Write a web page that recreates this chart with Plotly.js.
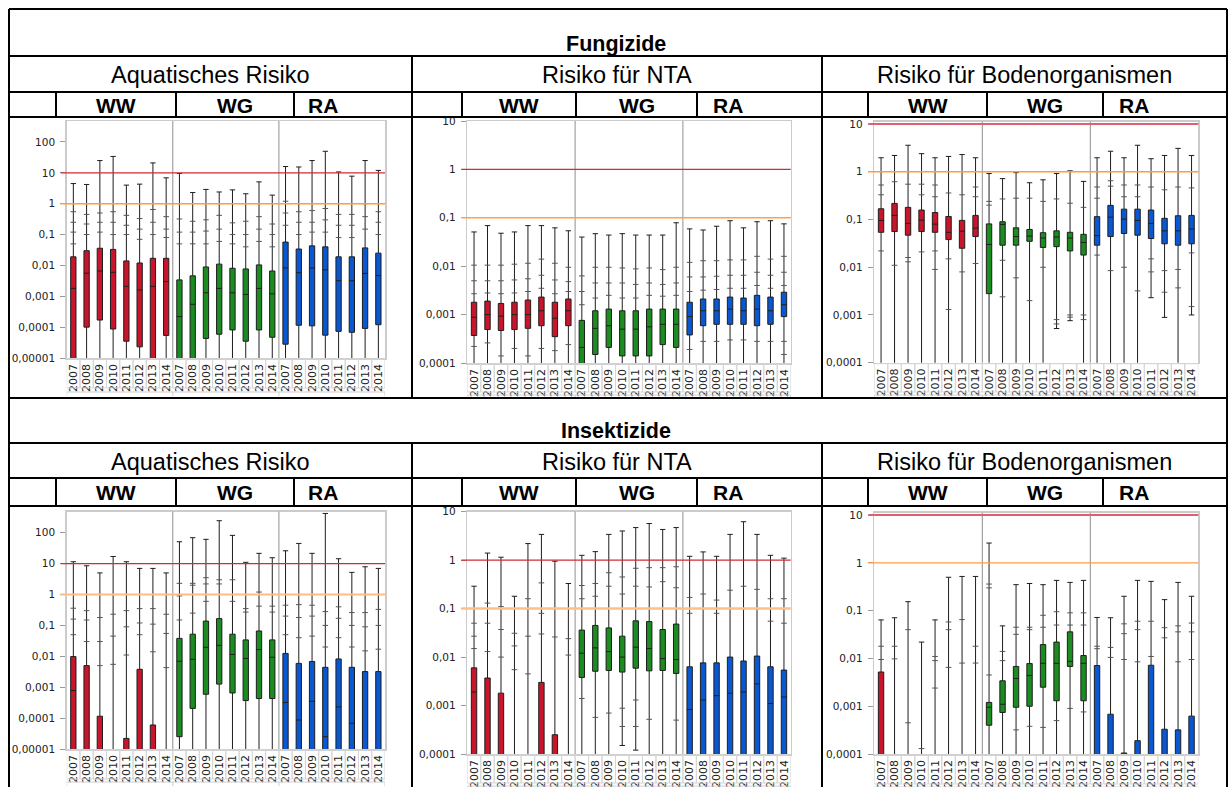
<!DOCTYPE html>
<html>
<head>
<meta charset="utf-8">
<script src="https://cdn.plot.ly/plotly-3.0.1.min.js"></script>
<style>
  html, body { margin: 0; padding: 0; background: #ffffff; }
  #chart { width: 1230px; height: 787px; }
</style>
</head>
<body>
<div id="chart"></div>
<script>
// ---- categories -------------------------------------------------------
const years = ['2007', '2008', '2009', '2010', '2011', '2012', '2013', '2014'];
const groups = ['WW', 'WG', 'RA'];
const sections = ['Fungizide', 'Insektizide'];
const riskTitles = ['Aquatisches Risiko', 'Risiko für NTA', 'Risiko für Bodenorganismen'];

// y tick labels (German decimal comma)
const aquaTickVals = [1e-5, 1e-4, 1e-3, 1e-2, 1e-1, 1, 10, 100];
const aquaTickText = ['0,00001', '0,0001', '0,001', '0,01', '0,1', '1', '10', '100'];
const soilTickVals = [1e-4, 1e-3, 1e-2, 1e-1, 1, 10];
const soilTickText = ['0,0001', '0,001', '0,01', '0,1', '1', '10'];

// trigger values (upper red line, lower orange line)
const aquaLimits = [10, 1];
const ntaLimits = [1, 0.1];
const soilLimits = [10, 1];

// ---- Fungizide: aquatisches Risiko (WW 2007-14, WG 2007-14, RA 2007-14) ----
const fungAquaHi  = [4.5, 4.2, 25, 34, 4.0, 4.3, 21, 6.9,   9.5, 2.3, 2.9, 2.4, 2.8, 2.1, 5.1, 1.9,   16, 15.5, 25, 50, 10.7, 7.8, 25, 12];
const fungAquaQ3  = [0.019, 0.030, 0.036, 0.033, 0.014, 0.012, 0.017, 0.017,   0.0034, 0.0046, 0.0089, 0.011, 0.0081, 0.0077, 0.0104, 0.0066,   0.057, 0.034, 0.043, 0.040, 0.019, 0.019, 0.037, 0.025];
const fungAquaMed = [0.0018, 0.0056, 0.0066, 0.006, 0.0021, 0.0016, 0.0021, 0.003,   0.00022, 0.00055, 0.0013, 0.0018, 0.0013, 0.00115, 0.0018, 0.0012,   0.0083, 0.0058, 0.0083, 0.0072, 0.0032, 0.0032, 0.0055, 0.0047];
const fungAquaQ1  = [1e-7, 1.0e-4, 1.7e-4, 8.7e-5, 3.5e-5, 2.3e-5, 1e-7, 5.4e-5,   1e-7, 1e-7, 4.3e-5, 5.9e-5, 8.1e-5, 3.5e-5, 8.1e-5, 4.7e-5,   2.8e-5, 1.15e-4, 1.1e-4, 5.5e-5, 7.3e-5, 6.8e-5, 9.1e-5, 1.2e-4];
const fungAquaLo  = [1e-8, 1e-8, 1e-8, 1e-8, 1e-8, 1e-8, 1e-8, 1e-8,   1e-8, 1e-8, 1e-8, 1e-8, 1e-8, 1e-8, 1e-8, 1e-8,   1e-8, 1e-8, 1e-8, 1e-8, 1e-8, 1e-8, 1e-8, 1e-8];
const fungAquaPts = [[0.55, 0.25, 0.12, 0.05], [0.45, 0.22, 0.1], [0.5, 0.25, 0.12], [0.55, 0.25, 0.1], [0.42, 0.2, 0.1], [0.33, 0.15, 0.07], [0.65, 0.25, 0.1], [0.38, 0.15, 0.08],
                     [0.32, 0.12, 0.05], [0.27, 0.12, 0.05], [0.3, 0.13, 0.05], [0.42, 0.15, 0.06], [0.24, 0.1, 0.05], [0.27, 0.1, 0.04], [0.38, 0.15, 0.06], [0.22, 0.1, 0.04],
                     [1.2, 0.5, 0.2], [0.55, 0.25, 0.1], [0.6, 0.25, 0.12], [0.7, 0.3, 0.12], [0.45, 0.2, 0.08], [0.45, 0.2, 0.08], [1.0, 0.38, 0.15], [0.55, 0.25, 0.1]];

// ---- Fungizide: Risiko für NTA ----
const fungNtaHi  = [0.051, 0.069, 0.048, 0.051, 0.069, 0.069, 0.062, 0.054,   0.04, 0.047, 0.044, 0.047, 0.044, 0.044, 0.044, 0.079,   0.059, 0.056, 0.067, 0.087, 0.062, 0.083, 0.087, 0.075];
const fungNtaQ3  = [0.0018, 0.0019, 0.0017, 0.0018, 0.002, 0.0023, 0.0018, 0.0021,   0.00076, 0.0012, 0.0013, 0.0012, 0.0012, 0.0013, 0.0013, 0.0013,   0.0018, 0.0021, 0.0021, 0.0023, 0.0022, 0.0025, 0.0023, 0.0029];
const fungNtaMed = [0.00088, 0.001, 0.00093, 0.001, 0.001, 0.0012, 0.00084, 0.0012,   0.00021, 0.00052, 0.00059, 0.0005, 0.0005, 0.00056, 0.00063, 0.00063,   0.00091, 0.0012, 0.0012, 0.0013, 0.0012, 0.0013, 0.0012, 0.0016];
const fungNtaQ1  = [0.00037, 0.00049, 0.00047, 0.00049, 0.00052, 0.00059, 0.00035, 0.00059,   1e-6, 0.00015, 0.00021, 0.00014, 0.00014, 0.00014, 0.00024, 0.00021,   0.00038, 0.00059, 0.00063, 0.00063, 0.00063, 0.00059, 0.00063, 0.00091];
const fungNtaLo  = [1e-6, 1e-6, 1e-6, 1e-6, 1e-6, 1e-6, 1e-6, 1e-6,   1e-6, 1e-6, 1e-6, 1e-6, 1e-6, 1e-6, 1e-6, 1e-6,   1e-6, 1e-6, 1e-6, 1e-6, 1e-6, 1e-6, 1e-6, 1e-6];
const fungNtaPts = [[0.0105, 0.005, 0.0027, 0.00022], [0.0105, 0.005, 0.0028, 0.00026], [0.0105, 0.005, 0.0027, 0.00014], [0.011, 0.0052, 0.0028, 0.0002], [0.0115, 0.0055, 0.003, 0.00014], [0.014, 0.0065, 0.0035, 0.0002], [0.0115, 0.0052, 0.0027, 0.00018], [0.0095, 0.0048, 0.003, 0.00024],
                    [0.0063, 0.003, 0.0016], [0.0095, 0.0045, 0.0022], [0.0095, 0.0045, 0.0025], [0.0092, 0.0045, 0.0022], [0.0088, 0.0042, 0.0022], [0.0092, 0.0045, 0.0025], [0.0085, 0.0042, 0.0024], [0.0095, 0.0045, 0.0025],
                    [0.012, 0.006, 0.003, 0.00019], [0.013, 0.006, 0.0032, 0.00028], [0.013, 0.0062, 0.0033, 0.00028], [0.0135, 0.0065, 0.0035, 0.0003], [0.0135, 0.0065, 0.0035, 0.0003], [0.016, 0.0075, 0.004, 0.00028], [0.014, 0.0065, 0.0035, 0.00028], [0.016, 0.0075, 0.004, 0.00028, 0.00015]];

// ---- Fungizide: Risiko für Bodenorganismen ----
const fungSoilHi  = [1.97, 2.2, 3.6, 2.4, 1.97, 2.1, 2.3, 1.97,   0.92, 0.72, 0.96, 0.59, 0.68, 0.92, 1.05, 0.63,   1.97, 2.7, 1.97, 3.6, 1.88, 2.2, 3.1, 2.2];
const fungSoilQ3  = [0.168, 0.218, 0.18, 0.158, 0.14, 0.116, 0.096, 0.122,   0.081, 0.09, 0.067, 0.062, 0.053, 0.058, 0.054, 0.049,   0.115, 0.198, 0.165, 0.165, 0.158, 0.106, 0.12, 0.122];
const fungSoilMed = [0.096, 0.122, 0.083, 0.097, 0.08, 0.054, 0.057, 0.066,   0.03, 0.079, 0.044, 0.045, 0.041, 0.043, 0.041, 0.033,   0.046, 0.112, 0.102, 0.096, 0.083, 0.058, 0.058, 0.063];
const fungSoilQ1  = [0.054, 0.056, 0.047, 0.056, 0.054, 0.038, 0.025, 0.044,   0.0028, 0.029, 0.029, 0.035, 0.026, 0.027, 0.022, 0.018,   0.029, 0.044, 0.051, 0.047, 0.040, 0.031, 0.029, 0.031];
const fungSoilLo  = [1e-6, 1e-6, 1e-6, 1e-6, 1e-6, 1e-6, 1e-6, 1e-6,   1e-6, 1e-6, 1e-6, 1e-6, 1e-6, 0.00052, 0.00076, 1e-6,   1e-6, 1e-6, 1e-6, 1e-6, 0.0023, 0.00089, 1e-6, 0.001];
const fungSoilPts = [[0.53, 0.33, 0.022], [0.62, 0.011], [0.55, 0.013, 0.016], [0.55, 0.33, 0.021], [0.53, 0.3, 0.009, 0.022], [0.36, 0.015, 0.0013], [0.33, 0.008], [0.48, 0.3, 0.012],
                     [0.24, 0.2], [0.27, 0.0024, 0.014], [0.28, 0.006], [0.28, 0.002], [0.24, 0.01], [0.27, 0.0008, 0.00065], [0.22, 0.001, 0.0009], [0.18, 0.001, 0.0008],
                     [0.48, 0.28, 0.018], [0.65, 0.5, 0.0085], [0.53, 0.3, 0.01], [0.53, 0.3, 0.0032], [0.48, 0.008, 0.015], [0.42, 0.003, 0.0085], [0.48, 0.0037, 0.009], [0.46, 0.0015, 0.02]];

// ---- Insektizide: aquatisches Risiko ----
const insAquaHi  = [11.5, 8.5, 5, 17, 11.5, 7, 7, 5,   51, 69, 61, 245, 82, 11, 21.5, 15.5,   26, 45, 21.5, 420, 14.4, 5.2, 7.9, 7];
const insAquaQ3  = [0.0098, 0.005, 1.15e-4, 1e-8, 2.2e-5, 0.0038, 6e-5, 1e-8,   0.038, 0.052, 0.138, 0.166, 0.052, 0.034, 0.066, 0.034,   0.0124, 0.0059, 0.0068, 0.0044, 0.0082, 0.0044, 0.0032, 0.0032];
const insAquaMed = [7.8e-4, 1e-7, 1e-7, 1e-8, 1e-7, 1e-7, 1e-7, 1e-8,   0.0069, 0.008, 0.0195, 0.0226, 0.0115, 0.0085, 0.0166, 0.0093,   3.2e-4, 8.7e-5, 3.5e-4, 2.5e-5, 2.3e-4, 6.8e-5, 1e-7, 1e-7];
const insAquaQ1  = [1e-8, 1e-8, 1e-8, 1e-8, 1e-8, 1e-8, 1e-8, 1e-8,   2.5e-5, 2.06e-4, 5.9e-4, 0.00126, 6.5e-4, 3.7e-4, 4.3e-4, 4.3e-4,   1e-8, 1e-8, 1e-8, 1e-8, 1e-8, 1e-8, 1e-8, 1e-8];
const insAquaLo  = [1e-9, 1e-9, 1e-9, 1e-9, 1e-9, 1e-9, 1e-9, 1e-9,   1e-9, 1e-9, 1e-9, 1e-9, 1e-9, 1e-9, 1e-9, 1e-9,   1e-9, 1e-9, 1e-9, 1e-9, 1e-9, 1e-9, 1e-9, 1e-9];
const insAquaPts = [[0.36, 0.16, 0.05], [0.3, 0.15, 0.03], [0.18, 0.03, 0.005], [0.23, 0.045, 0.0055], [0.3, 0.09, 0.011], [0.35, 0.12, 0.05], [0.35, 0.11, 0.014], [0.23, 0.055, 0.0043],
                    [2.3, 0.9, 0.15], [2.3, 2.0, 0.25], [3.5, 2.2, 0.6], [3.0, 2.2], [3.0, 0.6], [0.35, 0.27], [1.2, 0.42], [0.42, 0.27],
                    [0.45, 0.2, 0.05], [0.47, 0.18, 0.04], [0.45, 0.2, 0.045], [0.28, 0.1, 0.02], [0.4, 0.17, 0.04], [0.26, 0.1, 0.02], [0.26, 0.09, 0.015], [0.33, 0.1, 0.017]];

// ---- Insektizide: Risiko für NTA ----
const insNtaHi  = [0.29, 1.4, 1.15, 0.18, 2.2, 3.4, 0.95, 0.33,   1.26, 1.5, 3.4, 4.0, 4.7, 5.7, 4.3, 4.7,   1.2, 1.48, 1.2, 3.4, 6.2, 3.4, 1.26, 1.1];
const insNtaQ3  = [0.006, 0.0037, 0.0018, 1e-8, 1e-8, 0.003, 2.5e-4, 1e-8,   0.036, 0.045, 0.04, 0.027, 0.056, 0.054, 0.037, 0.048,   0.0063, 0.0076, 0.0076, 0.01, 0.0083, 0.0105, 0.0063, 0.0054];
const insNtaMed = [0.0019, 1e-7, 1e-7, 1e-8, 1e-8, 1e-7, 1e-7, 1e-8,   0.012, 0.0155, 0.013, 0.01, 0.016, 0.015, 0.0093, 0.0089,   8.3e-4, 0.0013, 0.0016, 0.0018, 0.0019, 0.0028, 0.0011, 0.0015];
const insNtaQ1  = [1e-8, 1e-8, 1e-8, 1e-8, 1e-8, 1e-8, 1e-8, 1e-8,   0.0038, 0.0051, 0.0053, 0.0049, 0.0059, 0.0052, 0.0053, 0.0046,   1e-8, 1e-8, 1e-8, 1e-8, 1e-8, 1e-8, 1e-8, 1e-8];
const insNtaLo  = [1e-9, 1e-9, 1e-9, 1e-9, 1e-9, 1e-9, 1e-9, 1e-9,   1e-9, 1e-9, 1e-9, 1.5e-4, 1.2e-4, 1e-9, 1e-9, 1e-9,   1e-9, 1e-9, 1e-9, 1e-9, 1e-9, 1e-9, 1e-9, 1e-9];
const insNtaPts = [[0.05, 0.027, 0.015], [0.13, 0.05, 0.013], [0.11, 0.037, 0.01], [0.031, 0.017, 0.0055], [0.16, 0.027, 0.0045], [0.34, 0.08, 0.03], [0.1, 0.026], [0.024, 0.011],
                   [0.3, 0.16, 0.0014], [0.33, 0.18, 0.00057], [0.55, 0.29, 0.0007], [0.45, 0.2, 0.00088, 0.00037], [0.68, 0.29, 0.0013, 0.00037], [0.7, 0.28, 0.00052], [0.7, 0.36], [0.73, 0.27, 0.0005],
                   [0.17, 0.08], [0.2, 0.1], [0.15, 0.08], [0.24, 0.1], [0.29, 0.1], [0.25, 0.1], [0.16, 0.055], [0.16, 0.05]];

// ---- Insektizide: Risiko für Bodenorganismen ----
const insSoilHi  = [0.064, 0.071, 0.154, 0.022, 0.064, 0.5, 0.52, 0.52,   2.6, 0.048, 0.35, 0.37, 0.35, 0.43, 0.39, 0.43,   0.072, 0.071, 0.2, 0.43, 0.41, 0.17, 0.39, 0.2];
const insSoilQ3  = [0.0052, 1e-8, 1e-8, 1e-8, 1e-8, 1e-8, 1e-8, 1e-8,   0.0012, 0.0034, 0.0068, 0.0078, 0.0195, 0.022, 0.036, 0.0115,   0.0071, 6.8e-4, 1.05e-4, 1.9e-4, 0.0072, 3.3e-4, 3.2e-4, 6.2e-4];
const insSoilMed = [1e-7, 1e-8, 1e-8, 1e-8, 1e-8, 1e-8, 1e-8, 1e-8,   9.5e-4, 0.0011, 0.0038, 0.0044, 0.0079, 0.0079, 0.0087, 0.0079,   1e-7, 1e-7, 1e-7, 1e-7, 1e-7, 1e-7, 1e-7, 1e-7];
const insSoilQ1  = [1e-8, 1e-8, 1e-8, 1e-8, 1e-8, 1e-8, 1e-8, 1e-8,   4e-4, 7.4e-4, 9.5e-4, 0.001, 0.0025, 0.0013, 0.0068, 0.0013,   1e-8, 1e-8, 1e-8, 1e-8, 1e-8, 1e-8, 1e-8, 1e-8];
const insSoilLo  = [1e-9, 1e-9, 1e-9, 1e-9, 1e-9, 1e-9, 1e-9, 1e-9,   1e-9, 1e-9, 1e-9, 1e-9, 1e-9, 1e-9, 1e-9, 1e-9,   1e-9, 1e-9, 1e-9, 1e-9, 1e-9, 1e-9, 1e-9, 1e-9];
const insSoilPts = [[0.018, 0.0095], [0.018, 0.0098], [0.04, 4.5e-4], [1.3e-4], [0.011, 0.009, 0.0024], [0.058, 0.04, 0.0065], [0.065, 0.008], [0.018, 0.008],
                    [0.36, 0.3, 0.0045], [0.014, 0.009], [0.045, 0.032, 3.2e-4], [0.045, 0.04, 3.8e-4], [0.08, 0.045, 3.6e-4], [0.095, 0.05, 5e-4], [0.09, 0.05, 9e-4], [0.09, 0.05, 7.6e-4],
                    [0.018, 0.016], [0.017, 0.0105], [0.053, 0.033, 0.0095], [0.06, 0.04, 0.0085], [0.06, 0.011], [0.044, 0.027], [0.048, 0.036, 0.0085], [0.055, 0.036, 0.0095]];

// ---- page geometry (pixels) -------------------------------------------
const W = 1230, H = 787;
const fx = v => v / W;
const fy = v => 1 - v / H;

const groupFill = ['#c8152b', '#1b8c1f', '#0a57d2'];
const redLine = '#d42a35';
const headFont = 'Liberation Sans, Arial, sans-serif';
const tickFont = { family: 'DejaVu Sans, sans-serif', size: 10.5, color: '#222' };
const yearFont = { family: 'DejaVu Sans, sans-serif', size: 11, color: '#222' };

const panels = [
  { hi: fungAquaHi, q3: fungAquaQ3, med: fungAquaMed, q1: fungAquaQ1, lo: fungAquaLo, pts: fungAquaPts,
    limits: aquaLimits, tv: aquaTickVals, tt: aquaTickText, range: [-5, 2.68],
    box: { l: 66.7, r: 385, t: 121, b: 358, lab: 388, base: 392 },
    limitStyle: [{ color: redLine, width: 1.2 }, { color: '#ff9b40', width: 1.4 }] },
  { hi: fungNtaHi, q3: fungNtaQ3, med: fungNtaMed, q1: fungNtaQ1, lo: fungNtaLo, pts: fungNtaPts,
    limits: ntaLimits, tv: soilTickVals, tt: soilTickText, range: [-4, 1],
    box: { l: 467.3, r: 790.7, t: 121, b: 363, lab: 392, base: 395 },
    limitStyle: [{ color: redLine, width: 1.2 }, { color: '#ffa050', width: 1.6 }] },
  { hi: fungSoilHi, q3: fungSoilQ3, med: fungSoilMed, q1: fungSoilQ1, lo: fungSoilLo, pts: fungSoilPts,
    limits: soilLimits, tv: soilTickVals, tt: soilTickText, range: [-4, 1.05],
    box: { l: 874.3, r: 1198.3, t: 121.7, b: 362.7, lab: 392, base: 395 },
    limitStyle: [{ color: '#dc6070', width: 2 }, { color: '#ff9b40', width: 1.4 }] },
  { hi: insAquaHi, q3: insAquaQ3, med: insAquaMed, q1: insAquaQ1, lo: insAquaLo, pts: insAquaPts,
    limits: aquaLimits, tv: aquaTickVals, tt: aquaTickText, range: [-5, 2.68],
    box: { l: 66.7, r: 385, t: 511.7, b: 749, lab: 779, base: 782 },
    limitStyle: [{ color: redLine, width: 1.2 }, { color: '#ffbb80', width: 2 }] },
  { hi: insNtaHi, q3: insNtaQ3, med: insNtaMed, q1: insNtaQ1, lo: insNtaLo, pts: insNtaPts,
    limits: ntaLimits, tv: soilTickVals, tt: soilTickText, range: [-4, 1],
    box: { l: 467.3, r: 790.7, t: 511.7, b: 754, lab: 783, base: 786 },
    limitStyle: [{ color: redLine, width: 1.2 }, { color: '#ffc088', width: 2.5 }] },
  { hi: insSoilHi, q3: insSoilQ3, med: insSoilMed, q1: insSoilQ1, lo: insSoilLo, pts: insSoilPts,
    limits: soilLimits, tv: soilTickVals, tt: soilTickText, range: [-4, 1.05],
    box: { l: 874.3, r: 1198.3, t: 512.7, b: 754, lab: 784, base: 787 },
    limitStyle: [{ color: '#dc6070', width: 2 }, { color: '#ff9b40', width: 1.4 }] }
];

const traces = [];
const shapes = [];
const annotations = [];
const layout = {
  width: W, height: H,
  margin: { l: 0, r: 0, t: 0, b: 0 },
  paper_bgcolor: '#ffffff', plot_bgcolor: 'rgba(0,0,0,0)',
  showlegend: false, boxmode: 'overlay',
  font: { family: headFont, color: '#000' }
};

const yearTicks = [];
groups.forEach(() => years.forEach(y => yearTicks.push(y)));
const catPos = yearTicks.map((_, i) => i);

panels.forEach((p, k) => {
  const n = k === 0 ? '' : String(k + 1);
  const xa = 'x' + n, ya = 'y' + n;
  const b = p.box;

  // one box trace per crop group
  groups.forEach((g, gi) => {
    const idx = years.map((_, j) => gi * years.length + j);
    traces.push({
      type: 'box', xaxis: xa, yaxis: ya, name: g,
      x: idx,
      q1: idx.map(i => p.q1[i]),
      median: idx.map(i => p.med[i]),
      q3: idx.map(i => p.q3[i]),
      lowerfence: idx.map(i => p.lo[i]),
      upperfence: idx.map(i => p.hi[i]),
      boxpoints: false,
      width: 0.4, whiskerwidth: 1,
      fillcolor: groupFill[gi],
      line: { color: '#1e1e1e', width: 1 },
      hoverinfo: 'skip'
    });
  });

  // single observations along the whiskers
  const mx = [], my = [];
  p.pts.forEach((list, i) => list.forEach(v => { mx.push(i); my.push(v); }));
  traces.push({
    type: 'scatter', mode: 'markers', xaxis: xa, yaxis: ya, x: mx, y: my,
    marker: { symbol: 'line-ew', size: 4, color: '#555', line: { color: '#555', width: 1 } },
    hoverinfo: 'skip', cliponaxis: true
  });

  layout['xaxis' + n] = {
    domain: [fx(b.l), fx(b.r)], anchor: ya,
    range: [-0.5, yearTicks.length - 0.5],
    tickmode: 'array', tickvals: catPos, ticktext: yearTicks, tickangle: -90,
    tickfont: yearFont,
    ticks: '', showgrid: false, zeroline: false,
    showline: true, mirror: true, linecolor: '#cbcbcb', linewidth: 1.5,
    fixedrange: true
  };
  layout['yaxis' + n] = {
    domain: [fy(b.b), fy(b.t)], anchor: xa,
    type: 'log', range: p.range,
    tickmode: 'array', tickvals: p.tv, ticktext: p.tt,
    ticks: 'outside', ticklen: 5, tickcolor: '#999', tickwidth: 1,
    ticklabelstandoff: 3,
    tickfont: tickFont,
    showgrid: false, zeroline: false,
    showline: true, mirror: true, linecolor: '#cbcbcb', linewidth: 1.5,
    fixedrange: true
  };

  // separators between the crop groups
  [years.length - 0.5, 2 * years.length - 0.5].forEach(v => {
    shapes.push({ type: 'line', xref: xa, yref: ya + ' domain', x0: v, x1: v, y0: 0, y1: 1,
                  line: { color: '#8f8f8f', width: 1 } });
  });

  // trigger lines
  p.limits.forEach((v, li) => {
    shapes.push({ type: 'line', xref: xa + ' domain', yref: ya,
                  x0: -6 / (b.r - b.l), x1: 1, y0: v, y1: v,
                  line: p.limitStyle[li] });
  });

  // cells around the year labels
  catPos.forEach(i => {
    shapes.push({ type: 'rect', xref: xa, yref: 'paper', layer: 'above',
                  x0: i - 0.5, x1: i + 0.5, y0: fy(b.lab), y1: fy(b.b + 1),
                  line: { color: '#d6d6d6', width: 1 } });
  });
  // base rule with group ticks
  shapes.push({ type: 'line', xref: 'paper', yref: 'paper', x0: fx(b.l), x1: fx(b.r),
                y0: fy(b.base), y1: fy(b.base), line: { color: '#cfcfcf', width: 1 } });
  [-0.5, years.length - 0.5, 2 * years.length - 0.5, 3 * years.length - 0.5].forEach(v => {
    shapes.push({ type: 'line', xref: xa, yref: 'paper', x0: v, x1: v,
                  y0: fy(b.base), y1: fy(b.base + 4), line: { color: '#cfcfcf', width: 1 } });
  });
});

// ---- table frame --------------------------------------------------------
const T = { l: 9, r: 1227, top: 9 };
const secRows = [
  { top: 9, r1: 56, r2: 92, r3: 117, bottom: 398 },
  { top: 398, r1: 443, r2: 478, r3: 506, bottom: 787 }
];
const colX = [9, 412, 822, 1227];
const subX = [[56, 176, 294], [462, 576, 697], [868, 987, 1103]];
const raX = [306, 711, 1117];
const black = { color: '#000', width: 2 };

// white header bands hide anything spilling out of the plots
secRows.forEach(s => {
  shapes.push({ type: 'rect', xref: 'paper', yref: 'paper', layer: 'above',
                x0: fx(T.l), x1: fx(T.r), y0: fy(s.r3), y1: fy(s.top),
                fillcolor: '#ffffff', line: { width: 0 } });
});
shapes.push({ type: 'rect', xref: 'paper', yref: 'paper', layer: 'above',
              x0: 0, x1: fx(T.l), y0: 0, y1: 1, fillcolor: '#ffffff', line: { width: 0 } });

const hline = (x0, x1, y) => shapes.push({ type: 'line', xref: 'paper', yref: 'paper', layer: 'above',
                                           x0: fx(x0), x1: fx(x1), y0: fy(y), y1: fy(y), line: black });
const vline = (x, y0, y1) => shapes.push({ type: 'line', xref: 'paper', yref: 'paper', layer: 'above',
                                           x0: fx(x), x1: fx(x), y0: fy(y0), y1: fy(y1), line: black });

secRows.forEach(s => {
  hline(T.l, T.r, s.top); hline(T.l, T.r, s.r1); hline(T.l, T.r, s.r2); hline(T.l, T.r, s.r3);
  vline(colX[1], s.r1, s.bottom); vline(colX[2], s.r1, s.bottom);
  subX.forEach(xs => xs.forEach(x => vline(x, s.r2, s.r3)));
});
vline(T.l, T.top, H); vline(T.r, T.top, H);

// ---- header texts ------------------------------------------------------
const text = (str, x, y, size, opts) => annotations.push(Object.assign({
  text: str, xref: 'paper', yref: 'paper', x: fx(x), y: fy(y),
  xanchor: 'center', yanchor: 'middle', showarrow: false,
  font: { family: headFont, size: size, color: '#000' }
}, opts || {}));

secRows.forEach((s, si) => {
  text('<b>' + sections[si] + '</b>', 616, s.r1 - 12, 21.5);
  riskTitles.forEach((t, ci) => text(t, (colX[ci] + colX[ci + 1]) / 2, (s.r1 + s.r2) / 2 + 1, 23.5));
  subX.forEach((xs, ci) => {
    const ym = (s.r2 + s.r3) / 2 + 1;
    text('<b>' + groups[0] + '</b>', (xs[0] + xs[1]) / 2, ym, 21);
    text('<b>' + groups[1] + '</b>', (xs[1] + xs[2]) / 2, ym, 21);
    text('<b>' + groups[2] + '</b>', raX[ci], ym, 21, { xanchor: 'left' });
  });
});

layout.shapes = shapes;
layout.annotations = annotations;

Plotly.newPlot('chart', traces, layout, { staticPlot: true, displayModeBar: false });
</script>
</body>
</html>
